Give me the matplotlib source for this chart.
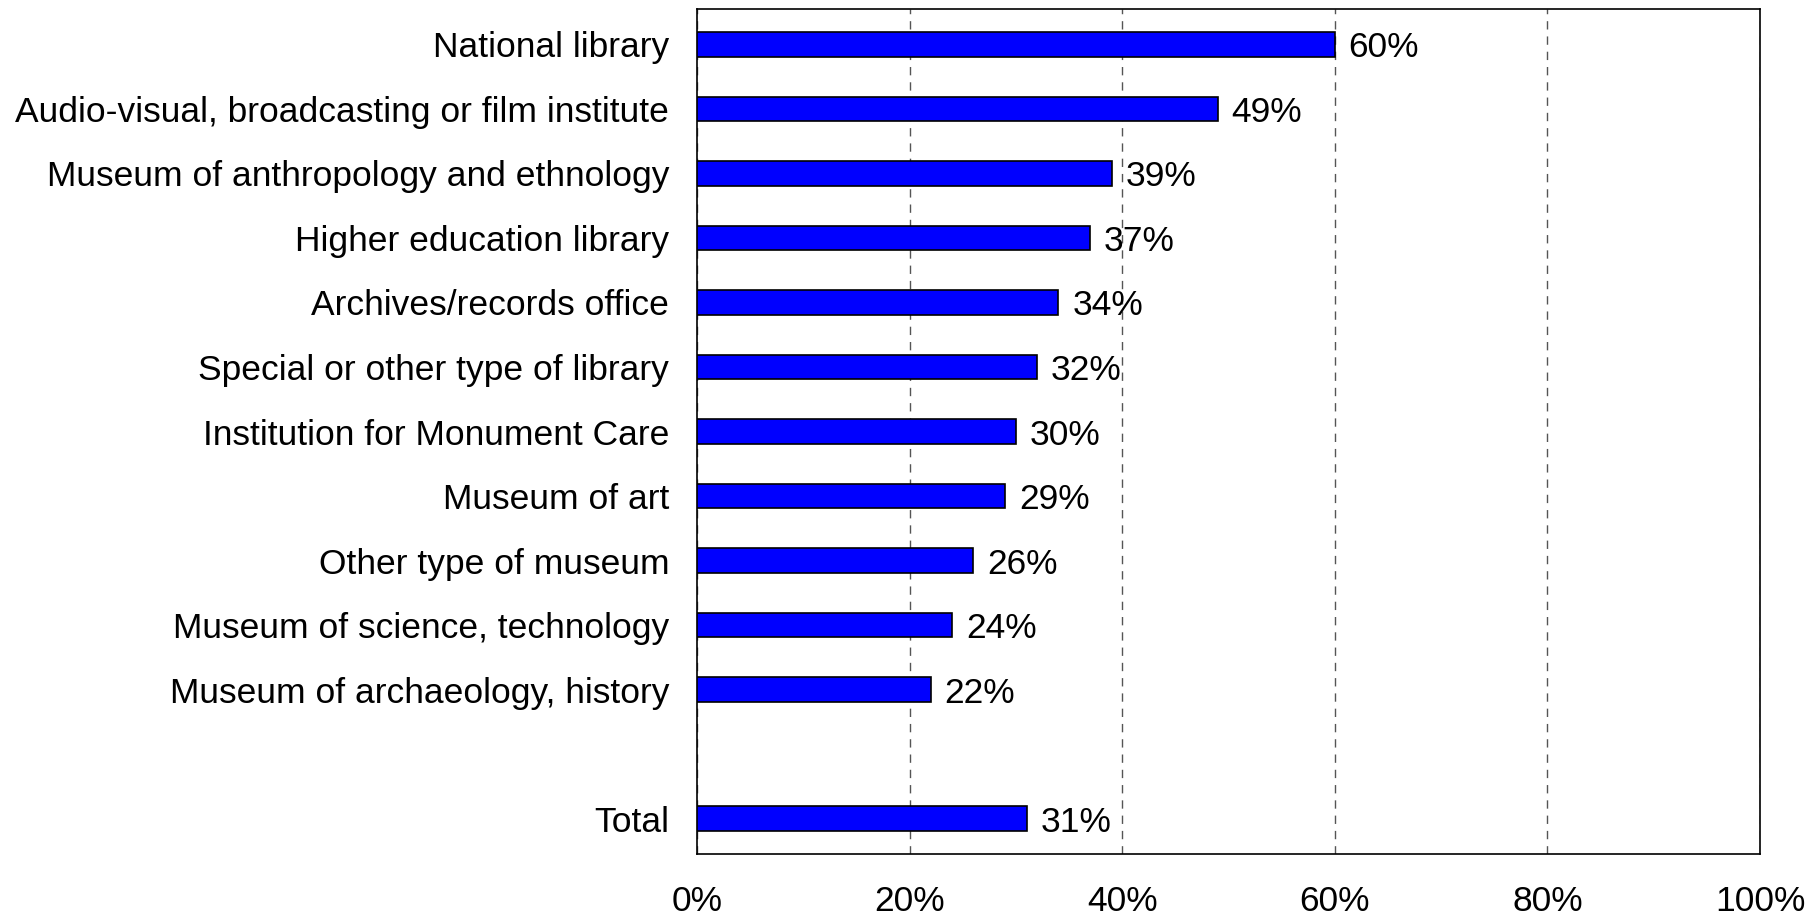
import matplotlib
matplotlib.use("Agg")
import matplotlib.pyplot as plt
from matplotlib.ticker import FuncFormatter

plt.rcParams['font.family'] = ['Liberation Sans', 'DejaVu Sans']

categories = [
    "National library",
    "Audio-visual, broadcasting or film institute",
    "Museum of anthropology and ethnology",
    "Higher education library",
    "Archives/records office",
    "Special or other type of library",
    "Institution for Monument Care",
    "Museum of art",
    "Other type of museum",
    "Museum of science, technology",
    "Museum of archaeology, history",
]
values = [60, 49, 39, 37, 34, 32, 30, 29, 26, 24, 22]
total_label = "Total"
total_value = 31

labels = categories + ["", total_label]
vals = values + [None, total_value]
positions = list(range(len(labels)))

FS = 25.5

fig = plt.figure(figsize=(18.09, 9.18), dpi=100)
ax = fig.add_axes([697 / 1809, 1 - 854 / 918, (1760 - 697) / 1809, (854 - 9) / 918])

for pos, v in zip(positions, vals):
    if v is None:
        continue
    ax.barh(pos, v, height=0.38, color='#0000FF', edgecolor='black', linewidth=1.2, zorder=3)
    ax.text(v + 1.3, pos, f"{v}%", va='center_baseline', ha='left', fontsize=FS, zorder=4)

ax.set_yticks(positions)
ax.set_yticklabels(labels, fontsize=FS)
ax.set_ylim(len(labels) - 0.45, -0.55)
ax.set_xlim(0, 100)
ax.set_xticks([0, 20, 40, 60, 80, 100])
ax.xaxis.set_major_formatter(FuncFormatter(lambda x, p: f"{x:.0f}%"))
ax.tick_params(axis='x', length=0, pad=22, labelsize=FS)
ax.tick_params(axis='y', length=0, pad=20)
ax.grid(axis='x', linestyle=(0, (6, 5)), color='#555555', linewidth=1, zorder=0)
for s in ax.spines.values():
    s.set_color('black')
    s.set_linewidth(1.2)

fig.savefig("out.png", dpi=100)
